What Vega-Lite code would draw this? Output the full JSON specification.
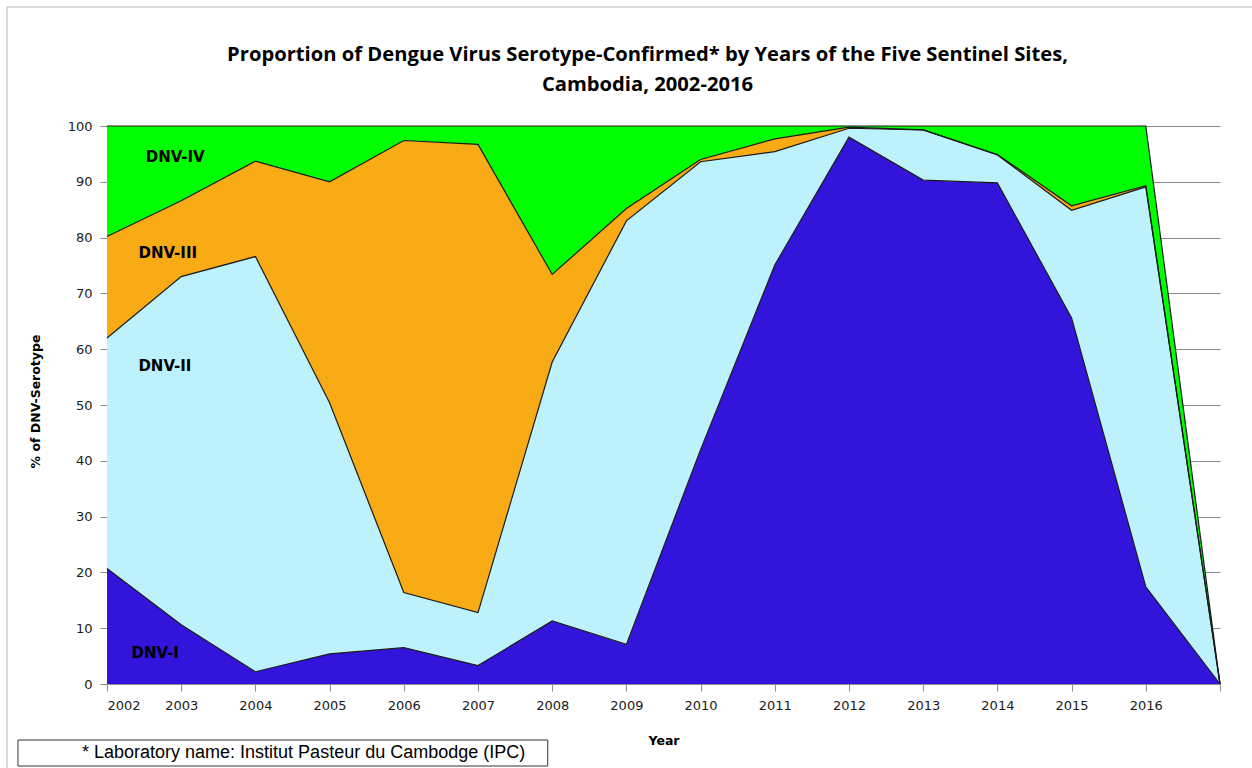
{
  "$schema": "https://vega.github.io/schema/vega-lite/v6.json",
  "width": 1113,
  "height": 558,
  "autosize": {"type": "none"},
  "padding": {"left": 107, "top": 126, "right": 32, "bottom": 84},
  "background": "white",
  "config": {"view": {"stroke": null}},
  "title": {
    "text": ["Proportion of Dengue Virus Serotype-Confirmed* by Years of the Five Sentinel Sites,", "Cambodia, 2002-2016"],
    "font": "Open Sans",
    "fontWeight": "bold",
    "fontSize": 20.2,
    "lineHeight": 30,
    "color": "#000000",
    "anchor": "middle",
    "frame": "group",
    "dx": -16,
    "dy": 119,
    "offset": 30
  },
  "datasets": {
    "main": [
      {"year": 2002, "serotype": "DNV-I", "order": 1, "value": 20.7},
      {"year": 2002, "serotype": "DNV-II", "order": 2, "value": 41.3},
      {"year": 2002, "serotype": "DNV-III", "order": 3, "value": 18.2},
      {"year": 2002, "serotype": "DNV-IV", "order": 4, "value": 19.8},
      {"year": 2003, "serotype": "DNV-I", "order": 1, "value": 10.6},
      {"year": 2003, "serotype": "DNV-II", "order": 2, "value": 62.4},
      {"year": 2003, "serotype": "DNV-III", "order": 3, "value": 13.6},
      {"year": 2003, "serotype": "DNV-IV", "order": 4, "value": 13.4},
      {"year": 2004, "serotype": "DNV-I", "order": 1, "value": 2.2},
      {"year": 2004, "serotype": "DNV-II", "order": 2, "value": 74.4},
      {"year": 2004, "serotype": "DNV-III", "order": 3, "value": 17.1},
      {"year": 2004, "serotype": "DNV-IV", "order": 4, "value": 6.3},
      {"year": 2005, "serotype": "DNV-I", "order": 1, "value": 5.4},
      {"year": 2005, "serotype": "DNV-II", "order": 2, "value": 45.0},
      {"year": 2005, "serotype": "DNV-III", "order": 3, "value": 39.6},
      {"year": 2005, "serotype": "DNV-IV", "order": 4, "value": 10.0},
      {"year": 2006, "serotype": "DNV-I", "order": 1, "value": 6.5},
      {"year": 2006, "serotype": "DNV-II", "order": 2, "value": 9.9},
      {"year": 2006, "serotype": "DNV-III", "order": 3, "value": 81.0},
      {"year": 2006, "serotype": "DNV-IV", "order": 4, "value": 2.6},
      {"year": 2007, "serotype": "DNV-I", "order": 1, "value": 3.3},
      {"year": 2007, "serotype": "DNV-II", "order": 2, "value": 9.5},
      {"year": 2007, "serotype": "DNV-III", "order": 3, "value": 83.9},
      {"year": 2007, "serotype": "DNV-IV", "order": 4, "value": 3.3},
      {"year": 2008, "serotype": "DNV-I", "order": 1, "value": 11.3},
      {"year": 2008, "serotype": "DNV-II", "order": 2, "value": 46.4},
      {"year": 2008, "serotype": "DNV-III", "order": 3, "value": 15.7},
      {"year": 2008, "serotype": "DNV-IV", "order": 4, "value": 26.6},
      {"year": 2009, "serotype": "DNV-I", "order": 1, "value": 7.1},
      {"year": 2009, "serotype": "DNV-II", "order": 2, "value": 75.9},
      {"year": 2009, "serotype": "DNV-III", "order": 3, "value": 2.2},
      {"year": 2009, "serotype": "DNV-IV", "order": 4, "value": 14.8},
      {"year": 2010, "serotype": "DNV-I", "order": 1, "value": 42.0},
      {"year": 2010, "serotype": "DNV-II", "order": 2, "value": 51.6},
      {"year": 2010, "serotype": "DNV-III", "order": 3, "value": 0.4},
      {"year": 2010, "serotype": "DNV-IV", "order": 4, "value": 6.0},
      {"year": 2011, "serotype": "DNV-I", "order": 1, "value": 75.1},
      {"year": 2011, "serotype": "DNV-II", "order": 2, "value": 20.3},
      {"year": 2011, "serotype": "DNV-III", "order": 3, "value": 2.3},
      {"year": 2011, "serotype": "DNV-IV", "order": 4, "value": 2.3},
      {"year": 2012, "serotype": "DNV-I", "order": 1, "value": 98.0},
      {"year": 2012, "serotype": "DNV-II", "order": 2, "value": 1.6},
      {"year": 2012, "serotype": "DNV-III", "order": 3, "value": 0.2},
      {"year": 2012, "serotype": "DNV-IV", "order": 4, "value": 0.2},
      {"year": 2013, "serotype": "DNV-I", "order": 1, "value": 90.3},
      {"year": 2013, "serotype": "DNV-II", "order": 2, "value": 9.0},
      {"year": 2013, "serotype": "DNV-III", "order": 3, "value": 0.0},
      {"year": 2013, "serotype": "DNV-IV", "order": 4, "value": 0.7},
      {"year": 2014, "serotype": "DNV-I", "order": 1, "value": 89.8},
      {"year": 2014, "serotype": "DNV-II", "order": 2, "value": 5.0},
      {"year": 2014, "serotype": "DNV-III", "order": 3, "value": 0.1},
      {"year": 2014, "serotype": "DNV-IV", "order": 4, "value": 5.1},
      {"year": 2015, "serotype": "DNV-I", "order": 1, "value": 65.6},
      {"year": 2015, "serotype": "DNV-II", "order": 2, "value": 19.3},
      {"year": 2015, "serotype": "DNV-III", "order": 3, "value": 0.8},
      {"year": 2015, "serotype": "DNV-IV", "order": 4, "value": 14.3},
      {"year": 2016, "serotype": "DNV-I", "order": 1, "value": 17.4},
      {"year": 2016, "serotype": "DNV-II", "order": 2, "value": 71.7},
      {"year": 2016, "serotype": "DNV-III", "order": 3, "value": 0.2},
      {"year": 2016, "serotype": "DNV-IV", "order": 4, "value": 10.7},
      {"year": 2017, "serotype": "DNV-I", "order": 1, "value": 0},
      {"year": 2017, "serotype": "DNV-II", "order": 2, "value": 0},
      {"year": 2017, "serotype": "DNV-III", "order": 3, "value": 0},
      {"year": 2017, "serotype": "DNV-IV", "order": 4, "value": 0}
    ],
    "labels": [
      {"x": 2002.92, "y": 94.4, "text": "DNV-IV"},
      {"x": 2002.82, "y": 77.2, "text": "DNV-III"},
      {"x": 2002.78, "y": 57.0, "text": "DNV-II"},
      {"x": 2002.65, "y": 5.6, "text": "DNV-I"}
    ]
  },
  "layer": [
    {
      "data": {"values": [{}]},
      "mark": {"type": "rect", "fill": null, "stroke": "#b4b4b4", "strokeWidth": 1, "clip": false},
      "encoding": {
        "x": {"datum": 2000.652, "type": "quantitative"},
        "x2": {"datum": 2030},
        "y": {"datum": 121.33, "type": "quantitative"},
        "y2": {"datum": -40}
      }
    },
    {
      "data": {"name": "main"},
      "transform": [
        {"stack": "value", "groupby": ["year"], "sort": [{"field": "order", "order": "ascending"}], "as": ["y0", "y1"]}
      ],
      "layer": [
        {
          "mark": {"type": "area", "interpolate": "linear"},
          "encoding": {
            "x": {
              "field": "year",
              "type": "quantitative",
              "scale": {"domain": [2002, 2017], "nice": false, "zero": false},
              "axis": {
                "values": [2002, 2003, 2004, 2005, 2006, 2007, 2008, 2009, 2010, 2011, 2012, 2013, 2014, 2015, 2016, 2017],
                "labelExpr": "datum.value == 2017 ? '' : format(datum.value, 'd')",
                "grid": false,
                "domainColor": "#8c8c8c",
                "tickColor": "#8c8c8c",
                "tickSize": 7,
                "labelPadding": 8,
                "labelFont": "DejaVu Sans",
                "labelFontSize": 13,
                "labelColor": "#1a1a1a",
                "title": "Year",
                "titleFont": "DejaVu Sans",
                "titleFontSize": 12.5,
                "titleFontWeight": "bold",
                "titleColor": "#000000",
                "titleY": 56,
                "titleBaseline": "middle"
              }
            },
            "y": {
              "field": "y1",
              "type": "quantitative",
              "scale": {"domain": [0, 100], "nice": false},
              "axis": {
                "values": [0, 10, 20, 30, 40, 50, 60, 70, 80, 90, 100],
                "grid": true,
                "gridColor": "#8c8c8c",
                "gridWidth": 1,
                "domainColor": "#8c8c8c",
                "tickColor": "#8c8c8c",
                "tickSize": 7,
                "labelPadding": 8,
                "labelFont": "DejaVu Sans",
                "labelFontSize": 13,
                "labelColor": "#1a1a1a",
                "title": "% of DNV-Serotype",
                "titleFont": "DejaVu Sans",
                "titleFontSize": 12.5,
                "titleFontWeight": "bold",
                "titleColor": "#000000",
                "titleX": -72,
                "titleY": 275,
                "titleAngle": -90,
                "titleBaseline": "middle",
                "titleAlign": "center"
              }
            },
            "y2": {"field": "y0"},
            "color": {
              "field": "serotype",
              "type": "nominal",
              "scale": {"domain": ["DNV-I", "DNV-II", "DNV-III", "DNV-IV"], "range": ["#3214DA", "#BDF1FB", "#F8AB15", "#00FF00"]},
              "legend": null
            }
          }
        },
        {
          "mark": {"type": "line", "color": "#1a1a1a", "strokeWidth": 1.2, "interpolate": "linear"},
          "encoding": {
            "x": {"field": "year", "type": "quantitative"},
            "y": {"field": "y1", "type": "quantitative"},
            "detail": {"field": "serotype"}
          }
        }
      ]
    },
    {
      "data": {"name": "labels"},
      "mark": {"type": "text", "font": "DejaVu Sans", "fontWeight": "bold", "fontSize": 15, "color": "#000000", "align": "center", "baseline": "middle"},
      "encoding": {
        "x": {"field": "x", "type": "quantitative"},
        "y": {"field": "y", "type": "quantitative"},
        "text": {"field": "text"}
      }
    },
    {
      "data": {"values": [{}]},
      "mark": {"type": "rect", "fill": "white", "stroke": "#333333", "strokeWidth": 1, "clip": false},
      "encoding": {
        "x": {"datum": 2000.80, "type": "quantitative"},
        "x2": {"datum": 2007.94},
        "y": {"datum": -10.04, "type": "quantitative"},
        "y2": {"datum": -14.7}
      }
    },
    {
      "data": {"values": [{"x": 2001.663, "y": -12.37, "text": "* Laboratory name: Institut Pasteur du Cambodge (IPC)"}]},
      "mark": {"type": "text", "font": "Liberation Sans", "fontSize": 18, "color": "#000000", "align": "left", "baseline": "middle", "clip": false},
      "encoding": {
        "x": {"field": "x", "type": "quantitative"},
        "y": {"field": "y", "type": "quantitative"},
        "text": {"field": "text"}
      }
    }
  ]
}
